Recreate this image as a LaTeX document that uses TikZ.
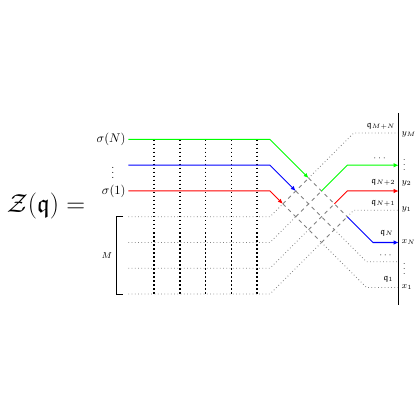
\documentclass[tikz,border=0pt]{standalone}
\usepackage{amsmath,amssymb}
\usetikzlibrary{arrows.meta}
\begin{document}
\begin{tikzpicture}[x=0.72cm,y=-0.72cm,
  colline/.style={thick},
  arr/.style={-{Latex[length=4pt,width=3.5pt]}},
  dotrow/.style={gray,dotted,semithick},
  lattice/.style={gray,dashed,thick},
  vdot/.style={black,dotted,very thick},
  lab/.style={font=\scriptsize,inner sep=1pt}]
\useasboundingbox (-10.485,-5.417) rectangle (5.825,10.893);
% named coordinates
\foreach \k in {0,...,6}{
  \coordinate (s\k) at (-5.5,\k);
  \coordinate (i\k) at (0,\k);
}
\foreach \k in {0,1,2}{
  \foreach \j in {3,...,6}{
    \coordinate (c\k\j) at ({(\j-\k)/2},{(\j+\k)/2});
  }
}
% vertical dotted lines
\foreach \x [count=\n] in {-4.5,-3.5,-2.5,-1.5,-0.5}{
  \coordinate (vt\n) at (\x,0);
  \coordinate (vb\n) at (\x,6);
  \draw[vdot] (vt\n) -- (vb\n);
}
% lattice
\foreach \k in {0,1,2}{\draw[lattice] (c\k3) -- (c\k6);}
\foreach \j in {3,...,6}{\draw[lattice] (c2\j) -- (c0\j);}
% incoming dotted rows
\foreach \j in {3,...,6}{\draw[dotrow] (s\j) -- (i\j) -- (c2\j);}
% incoming coloured rows
\draw[colline,green,arr] (s0) -- (i0) -- (c03);
\draw[colline,blue,arr] (s1) -- (i1) -- (c13);
\draw[colline,red,arr] (s2) -- (i2) -- (c23);
% outgoing
\coordinate (g1) at (3,1);   \coordinate (ge) at (5,1);
\coordinate (r1) at (3,2);   \coordinate (re) at (5,2);
\coordinate (b1) at (4,4);   \coordinate (be) at (5,4);
\draw[colline,green,arr] (c04) -- (g1) -- (ge);
\draw[colline,red,arr] (c05) -- (r1) -- (re);
\draw[colline,blue,arr] (c06) -- (b1) -- (be);
\coordinate (d1) at (3.25,-0.25); \coordinate (d1e) at (5,-0.25);
\coordinate (d2) at (3.25,2.75);  \coordinate (d2e) at (5,2.75);
\coordinate (d3) at (3.75,4.75);  \coordinate (d3e) at (5,4.75);
\coordinate (d4) at (3.75,5.75);  \coordinate (d4e) at (5,5.75);
\draw[dotrow] (c03) -- (d1) -- (d1e);
\draw[dotrow] (c06) -- (d2) -- (d2e);
\draw[dotrow] (c16) -- (d3) -- (d3e);
\draw[dotrow] (c26) -- (d4) -- (d4e);
% right bar
\coordinate (bt) at (5,-1.03);
\coordinate (bb) at (5,6.43);
\draw[semithick] (bt) -- (bb);
% bracket
\coordinate (k1) at (-5.7,3); \coordinate (k2) at (-5.95,3);
\coordinate (k3) at (-5.95,6); \coordinate (k4) at (-5.7,6);
\draw[semithick] (k1) -- (k2) -- (k3) -- (k4);
\node[font=\scriptsize] (M) at (-6.33,4.5) {$M$};
% left labels
\node[anchor=east,inner sep=2pt] (lN) at (s0) {$\sigma(N)$};
\node[font=\footnotesize,inner sep=0pt] (lv) at (-6.1,1.15) {$\vdots$};
\node[anchor=east,inner sep=2pt] (l1) at (s2) {$\sigma(1)$};
% big label
\node[font=\huge] (Z) at (-8.7,2.6) {$\mathcal{Z}(\mathfrak{q}) =$};
% right labels
\node[lab,anchor=west] (yM) at (5.05,-0.21) {$y_M$};
\node[lab,inner sep=0pt] (yv) at (5.22,0.85) {$\vdots$};
\node[lab,anchor=west] (y2) at (5.05,1.69) {$y_2$};
\node[lab,anchor=west] (y1) at (5.05,2.7) {$y_1$};
\node[lab,anchor=west] (xN) at (5.05,3.98) {$x_N$};
\node[lab,inner sep=0pt] (xv) at (5.22,4.87) {$\vdots$};
\node[lab,anchor=west] (x1) at (5.05,5.73) {$x_1$};
% q labels
\node[lab,anchor=east] (qMN) at (4.92,-0.52) {$\mathfrak{q}_{M+N}$};
\node[lab,anchor=east] (qd1) at (4.62,0.72) {$\cdots$};
\node[lab,anchor=east] (qN2) at (4.92,1.68) {$\mathfrak{q}_{N+2}$};
\node[lab,anchor=east] (qN1) at (4.92,2.47) {$\mathfrak{q}_{N+1}$};
\node[lab,anchor=east] (qN) at (4.85,3.63) {$\mathfrak{q}_{N}$};
\node[lab,anchor=east] (qd2) at (4.85,4.49) {$\cdots$};
\node[lab,anchor=east] (q1) at (4.85,5.42) {$\mathfrak{q}_{1}$};
\end{tikzpicture}
\end{document}
